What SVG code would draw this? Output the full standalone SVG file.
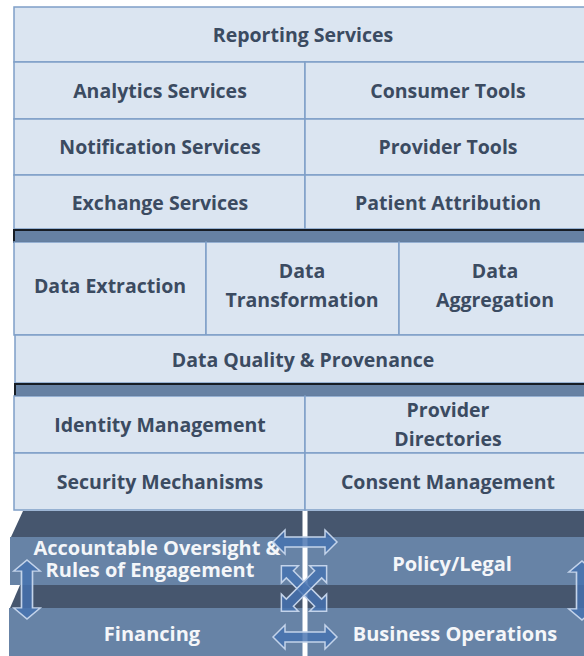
<svg xmlns="http://www.w3.org/2000/svg" width="584" height="656" viewBox="0 0 584 656">
<style>
.cell{fill:#dbe5f1;stroke:#7f9fc7;stroke-width:1.5}
.bar{fill:#6681a3;stroke:#161c24;stroke-width:2}
.t{font-family:"Open Sans","Noto Sans",sans-serif;font-weight:700;font-size:19.5px;fill:#3b4b61;text-anchor:middle}
.w{font-family:"Open Sans","Noto Sans",sans-serif;font-weight:700;font-size:20px;fill:#f4f6f9;text-anchor:middle}
.top{fill:#46566e}
.front{fill:#6783a6}
.arr{fill:#4672b0;fill-opacity:0.82;stroke:#c3d3ea;stroke-width:1.5}
</style>
<defs>
<path id="dbl" d="M-32,0 L-20,-12 L-20,-5 L20,-5 L20,-12 L32,0 L20,12 L20,5 L-20,5 L-20,12 Z"/>
</defs>
<rect width="584" height="656" fill="#ffffff"/>

<g id="reporting"><rect class="cell" x="14" y="7" width="577" height="55"/><text class="t" x="303" y="42">Reporting Services</text></g>
<g id="analytics"><rect class="cell" x="14" y="62" width="291" height="57"/><text class="t" x="160" y="98">Analytics Services</text></g>
<g id="consumer"><rect class="cell" x="305" y="62" width="286" height="57"/><text class="t" x="448" y="98">Consumer Tools</text></g>
<g id="notification"><rect class="cell" x="14" y="119" width="291" height="56"/><text class="t" x="160" y="154">Notification Services</text></g>
<g id="provider-tools"><rect class="cell" x="305" y="119" width="286" height="56"/><text class="t" x="448" y="154">Provider Tools</text></g>
<g id="exchange"><rect class="cell" x="14" y="175" width="291" height="54"/><text class="t" x="160" y="210">Exchange Services</text></g>
<g id="attribution"><rect class="cell" x="305" y="175" width="286" height="54"/><text class="t" x="448" y="210">Patient Attribution</text></g>
<g id="bar1"><rect class="bar" x="14" y="230" width="580" height="12"/></g>
<g id="extraction"><rect class="cell" x="14" y="242" width="192" height="93"/><text class="t" x="110" y="293">Data Extraction</text></g>
<g id="transformation"><rect class="cell" x="206" y="242" width="193" height="93"/><text class="t" x="302" y="278">Data</text><text class="t" x="302" y="307">Transformation</text></g>
<g id="aggregation"><rect class="cell" x="399" y="242" width="192" height="93"/><text class="t" x="495" y="278">Data</text><text class="t" x="495" y="307">Aggregation</text></g>
<g id="quality"><rect class="cell" x="15" y="335" width="576" height="48"/><text class="t" x="303" y="367">Data Quality &amp; Provenance</text></g>
<g id="bar2"><rect class="bar" x="15" y="384" width="580" height="12"/></g>
<g id="identity"><rect class="cell" x="14" y="396" width="291" height="57"/><text class="t" x="160" y="432">Identity Management</text></g>
<g id="directories"><rect class="cell" x="305" y="396" width="286" height="57"/><text class="t" x="448" y="417">Provider</text><text class="t" x="448" y="446">Directories</text></g>
<g id="security"><rect class="cell" x="14" y="453" width="291" height="57"/><text class="t" x="160" y="489">Security Mechanisms</text></g>
<g id="consent"><rect class="cell" x="305" y="453" width="286" height="57"/><text class="t" x="448" y="489">Consent Management</text></g>

<g id="oversight">
<path class="top" d="M23,511 L591,511 L591,537 L11,537 Z"/>
<rect class="front" x="10" y="537" width="581" height="48"/>
<text class="w" x="157" y="555">Accountable Oversight &amp;</text>
<text class="w" x="150" y="577">Rules of Engagement</text>
</g>
<g id="policy"><text class="w" x="452" y="571">Policy/Legal</text></g>
<g id="financing">
<path class="top" d="M20,585 L591,585 L591,608 L10,608 Z"/>
<rect class="front" x="9" y="608" width="582" height="48" fill="#6986aa"/>
<text class="w" x="152" y="641">Financing</text>
</g>
<g id="business"><text class="w" x="455" y="641">Business Operations</text></g>
<rect x="302.5" y="511" width="5" height="145" fill="#ffffff"/>

<g id="connectors">
<use href="#dbl" class="arr" transform="translate(305,542)"/>
<use href="#dbl" class="arr" transform="translate(305,637)"/>
<use href="#dbl" class="arr" transform="translate(304,588.5) rotate(45)"/>
<use href="#dbl" class="arr" transform="translate(304,588.5) rotate(-45)"/>
<use href="#dbl" class="arr" transform="translate(27,589.5) rotate(90) scale(0.92,1.1)"/>
<use href="#dbl" class="arr" transform="translate(582,590.5) rotate(90) scale(0.92,1.1)"/>
</g>
</svg>
